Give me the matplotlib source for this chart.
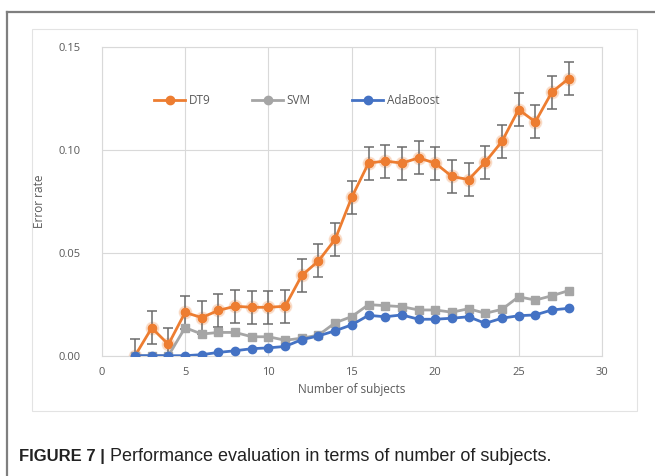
import matplotlib
matplotlib.use("Agg")
import matplotlib.pyplot as plt
from matplotlib.lines import Line2D
from matplotlib.patches import Rectangle

subjects = list(range(2, 29))
dt9 = [0.000, 0.0135, 0.0055, 0.021, 0.0185, 0.022, 0.024, 0.0235, 0.0235, 0.024,
       0.039, 0.046, 0.0565, 0.077, 0.0935, 0.0945, 0.0935, 0.096, 0.0935, 0.087,
       0.0855, 0.094, 0.104, 0.1195, 0.1135, 0.128, 0.1345]
dt9_err = [0.008] * 27
svm = [0.0, 0.0, 0.0, 0.0136, 0.0105, 0.0113, 0.0113, 0.0092, 0.0092, 0.0075,
       0.0085, 0.0100, 0.016, 0.019, 0.0248, 0.0243, 0.0238, 0.0222, 0.0222, 0.0211,
       0.0228, 0.0206, 0.0225, 0.0286, 0.027, 0.0291, 0.0316]
ada = [0.0, 0.0, 0.0, 0.0, 0.0005, 0.0016, 0.0024, 0.0034, 0.0038, 0.0045,
       0.0078, 0.0096, 0.0121, 0.015, 0.0196, 0.0189, 0.0198, 0.0177, 0.0177, 0.0182,
       0.0189, 0.0157, 0.0182, 0.0194, 0.0198, 0.0222, 0.0230]
xticks = [0, 5, 10, 15, 20, 25, 30]
yticks = [0.00, 0.05, 0.10, 0.15]
ytick_labels = ["0.00", "0.05", "0.10", "0.15"]

W, H = 655, 476
fig = plt.figure(figsize=(W / 100, H / 100), dpi=100)

def fx(px):
    return px / W

def fy(py):
    return 1 - py / H

# outer frame (top and left)
fig.add_artist(Line2D([fx(7), fx(W)], [fy(12), fy(12)], color="#7f7f7f", lw=1.6))
fig.add_artist(Line2D([fx(7), fx(7)], [fy(12), fy(H)], color="#7f7f7f", lw=1.6))
# chart area box
fig.add_artist(Rectangle((fx(32), fy(411)), fx(637) - fx(32), fy(29) - fy(411),
                         fill=False, edgecolor="#e3e3e3", lw=0.8))

ax = fig.add_axes([fx(101.7), fy(355.7), fx(602) - fx(101.7), fy(46.7) - fy(355.7)])

orange = "#ED7D31"
gray = "#A5A5A5"
blue = "#4472C4"

# glow for orange markers
ax.plot(subjects, dt9, linestyle="none", marker="o", markersize=9,
        color=orange, alpha=0.18, zorder=2)
ax.errorbar(subjects, dt9, yerr=dt9_err, color=orange, lw=2.0, marker="o",
            markersize=6, ecolor="#6b6b6b", elinewidth=1.1, capsize=3.5,
            capthick=1.1, label="DT9", zorder=3)
ax.plot(subjects, svm, color=gray, lw=2.0, marker="s", markersize=6,
        label="SVM", zorder=4)
ax.plot(subjects, ada, color=blue, lw=2.0, marker="o", markersize=6,
        label="AdaBoost", zorder=5)

ax.set_xlim(0, 30)
ax.set_ylim(0, 0.15)
ax.set_xticks(xticks)
ax.set_yticks(yticks)
ax.set_yticklabels(ytick_labels)
ax.grid(True, color="#d9d9d9", lw=0.8)
ax.set_axisbelow(True)
for s in ax.spines.values():
    s.set_color("#d9d9d9")
    s.set_linewidth(0.8)
ax.tick_params(length=0, labelsize=8, labelcolor="#595959")
ax.tick_params(axis="y", pad=15)
ax.tick_params(axis="x", pad=8)
for lab in ax.get_xticklabels() + ax.get_yticklabels():
    lab.set_family("Open Sans")

ax.set_xlabel("Number of subjects", fontsize=8.5, color="#595959",
              family="Open Sans", labelpad=4)
ax.set_ylabel("Error rate", fontsize=8.5, color="#595959",
              family="Open Sans", labelpad=9)

handles = [
    Line2D([], [], color=orange, lw=2.0, marker="o", markersize=6),
    Line2D([], [], color=gray, lw=2.0, marker="o", markersize=6),
    Line2D([], [], color=blue, lw=2.0, marker="o", markersize=6),
]
leg = ax.legend(handles, ["DT9", "SVM", "AdaBoost"], ncol=3, frameon=False,
                loc="center", bbox_to_anchor=(0.39, 0.827),
                prop={"family": "Open Sans", "size": 8.5},
                handlelength=2.6, columnspacing=3.55, handletextpad=0.3)
for t in leg.get_texts():
    t.set_color("#595959")

fig.text(fx(19), fy(461), "FIGURE 7 |", fontsize=12, fontweight="bold",
         family="Liberation Sans", color="#222222", va="baseline", ha="left")
fig.text(fx(110), fy(461), "Performance evaluation in terms of number of subjects.",
         fontsize=13, family="Liberation Sans", color="#222222",
         va="baseline", ha="left")

fig.savefig("out.png", dpi=100)
